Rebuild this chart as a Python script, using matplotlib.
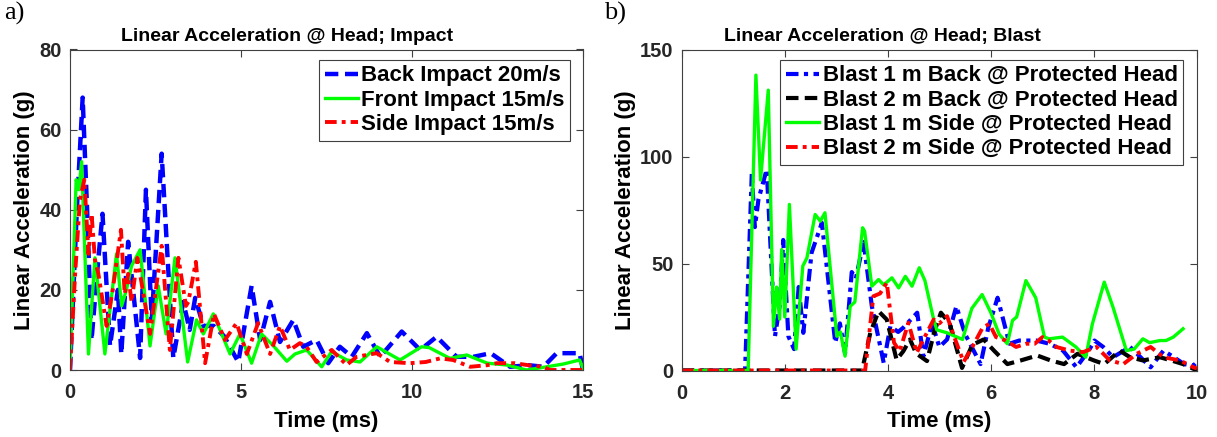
import matplotlib
matplotlib.use("Agg")
import matplotlib.pyplot as plt

# ---------------- data: panel a (impact) ----------------
back_t = [0, 0.2, 0.37, 0.5, 0.63, 0.8, 0.95, 1.17, 1.4, 1.5, 1.7, 2.05, 2.22, 2.39, 2.68, 3.02, 3.31, 3.5, 3.66, 3.9, 4.2, 4.5, 4.92, 5.31,
          5.56, 5.85, 6.14, 6.53, 6.82, 7.21, 7.55, 7.89, 8.24, 8.68, 9.07, 9.7, 10.24, 10.72, 11.3, 11.8, 12.3, 12.87, 13.4,
          13.84, 14.23, 14.9, 15.0]
back_g = [0, 40, 68, 40, 7.5, 25, 39, 6, 20, 4, 32, 3, 45, 12.5, 54, 3, 17, 10, 18, 11, 11, 8.5, 2, 21,
          7.5, 17, 7, 12.5, 5.8, 7.5, 1.7, 5.8, 3.3, 9.2, 3.3, 9.6, 5, 8.3, 3.3, 3.3, 4.2, 0.8, 1.2,
          0.8, 4.2, 4.2, 0]

front_t = [0, 0.18, 0.26, 0.34, 0.54, 0.73, 1.02, 1.36, 1.51, 1.65, 1.8, 2.05, 2.34, 2.58, 2.81, 3.07, 3.44, 3.7, 3.9, 4.19, 4.68,
           4.97, 5.31, 5.6, 5.95, 6.34, 6.58, 6.92, 7.36, 7.65, 8.09, 8.48, 8.97, 9.65, 10.28, 10.5, 11.11, 11.6, 12.2, 12.77,
           13.35, 13.94, 14.43, 14.9, 15.0]
front_g = [0, 47.5, 45, 52, 4, 28, 4, 29, 16, 20, 26, 30, 6, 21, 9, 28, 2, 12.5, 9, 14, 4,
           9, 1.7, 9, 6, 2.2, 4, 5, 0.8, 4.6, 2.5, 2, 5.8, 2.5, 5.8, 5.6, 2.9, 3.75, 1.7, 1.25,
           0, 0.8, 1.5, 2.5, 0.5]

side_t = [0, 0.15, 0.29, 0.42, 0.54, 0.63, 0.73, 0.83, 1.07, 1.25, 1.49, 1.6, 1.7, 1.8, 1.97, 2.34, 2.68, 2.92, 3.17, 3.39, 3.46,
          3.68, 3.95, 4.21, 4.53, 4.87, 5.17, 5.5, 5.85, 6.14, 6.43, 6.72, 6.9, 7.21, 7.65, 8.09, 8.38, 8.97, 9.36, 9.94,
          10.4, 10.82, 11.2, 11.7, 12.2, 12.48, 13.0, 13.4, 13.84, 14.03, 15.0]
side_g = [0, 24, 42.5, 47.5, 29, 39, 27.5, 24, 11, 20, 35, 19, 24, 17, 28, 9, 31, 5, 28, 16, 17,
          27, 1.7, 14, 7.5, 11.7, 4, 11.7, 4, 11, 5, 6.7, 6, 2, 5, 1.25, 3.3, 4.2, 2, 1.7,
          2, 2.9, 2.5, 0.8, 1.2, 1.7, 1.7, 1.2, 0.8, 0, 0]

# ---------------- data: panel b (blast) ----------------
b1back_t = [0, 1.23, 1.36, 1.42, 1.49, 1.65, 1.81, 1.9, 1.97, 2.07, 2.18, 2.27, 2.36, 2.52, 2.72, 2.98, 3.07, 3.17, 3.3, 3.38, 3.53,
            3.69, 3.92, 4.05, 4.2, 4.3, 4.57, 4.69, 4.86, 5.0, 5.15, 5.33, 5.5, 5.8, 5.95, 6.13, 6.36, 6.55, 6.88, 7.14, 7.4,
            7.66, 7.9, 8.01, 8.18, 8.37, 8.7, 8.83, 9.1, 9.35, 9.55, 9.75, 9.93, 10.0]
b1back_g = [0, 0, 92, 67, 80, 94, 16, 30, 61, 16, 10, 39, 17.6, 55, 69, 13, 22, 8, 46, 43, 60,
            30, 3.6, 20.7, 18, 20, 27, 6.7, 22, 11, 14.5, 30, 17, 3, 20, 34, 12.5, 14, 14, 12.5, 9.3,
            1.5, 9.3, 14, 11, 6.2, 11, 8, 1.5, 9.3, 6.2, 3, 2.3, 4]

b2back_t = [0, 3.5, 3.66, 3.82, 3.98, 4.17, 4.3, 4.43, 4.55, 4.76, 4.9, 5.03, 5.2, 5.44, 5.64, 5.86, 6.06, 6.32, 6.58, 6.9, 7.16,
            7.42, 7.68, 8.0, 8.2, 8.5, 8.7, 8.95, 9.28, 9.5, 9.73, 9.93, 10.0]
b2back_g = [0, 0, 17.6, 27.7, 23.8, 5, 9, 14.5, 8, 4.4, 18, 27, 22, 1.2, 12, 14.5, 9.3, 3, 4.7, 7, 4.7,
            3, 7.8, 4.7, 3, 9.3, 6.2, 4.7, 6.2, 4.7, 3, 0.8, 0]

b1side_t = [0, 1.29, 1.44, 1.53, 1.68, 1.78, 1.84, 1.9, 1.94, 2.0, 2.09, 2.22, 2.35, 2.43, 2.59, 2.69, 2.78, 3.01, 3.08, 3.17, 3.27,
            3.36, 3.51, 3.55, 3.69, 3.82, 3.92, 4.08, 4.21, 4.34, 4.47, 4.61, 4.72, 4.89, 4.95, 5.15, 5.45, 5.63, 5.83, 6.0,
            6.16, 6.32, 6.42, 6.5, 6.68, 6.87, 7.04, 7.13, 7.39, 7.65, 7.84, 7.97, 8.2, 8.37, 8.63, 8.78, 8.95, 9.08, 9.28,
            9.4, 9.54, 9.73]
b1side_g = [0, 0, 138, 89, 131, 20.7, 39, 24, 56.5, 25, 77.6, 10, 48.8, 52.6, 72.9, 69.8, 73.7, 16, 18, 6.7, 30,
            32, 66.7, 65, 39.4, 42.5, 40, 43.3, 38.6, 44, 39.4, 48, 42, 23.8, 19, 17.6, 14.5, 29, 35.5, 27,
            17, 12.5, 23.4, 25, 42, 34, 15.6, 14.8, 15.6, 11, 6.2, 21.8, 41.3, 29.6, 9.3, 10, 14.8, 13, 14,
            14, 15.6, 19.5]

b2side_t = [0, 3.56, 3.72, 3.85, 3.98, 4.12, 4.23, 4.4, 4.56, 4.68, 4.89, 5.0, 5.15, 5.3, 5.47, 5.64, 5.84, 5.97, 6.1, 6.29, 6.49,
            6.68, 6.85, 7.0, 7.12, 7.27, 7.53, 7.79, 8.05, 8.31, 8.57, 8.83, 9.1, 9.35, 9.67, 9.93, 10.0]
b2side_g = [0, 0, 34.7, 36, 41, 13, 9, 22.3, 8.3, 14, 23.8, 22, 25.4, 15, 4, 11, 20, 21.8, 15.6, 14, 11,
            12.5, 12.5, 15.6, 14, 11, 9.3, 8.6, 11, 4.7, 3, 7.8, 11, 6.2, 4.7, 1.5, 1]

impact_labels = ["Back Impact 20m/s", "Front Impact 15m/s", "Side Impact 15m/s"]
blast_labels = ["Blast 1 m Back @ Protected Head", "Blast 2 m Back @ Protected Head",
                "Blast 1 m Side @ Protected Head", "Blast 2 m Side @ Protected Head"]

plt.rcParams['font.family'] = ['Liberation Sans', 'DejaVu Sans']
plt.rcParams['font.weight'] = 'bold'

fig = plt.figure(figsize=(12.17, 4.37), dpi=100)
W, H = 1217, 437
ax1 = fig.add_axes([70 / W, (437 - 370) / H, (583 - 70) / W, (370 - 49.5) / H])
ax2 = fig.add_axes([681.7 / W, (437 - 370.5) / H, (1197 - 681.7) / W, (370.5 - 49.5) / H])

BLUE, GREEN, RED, BLACK = '#0000FF', '#00FF00', '#FF0000', '#000000'
DASH = (0, (3.0, 1.5))
DASHDOT = (0, (3.0, 1.3, 1.0, 1.3))

ax1.plot(back_t, back_g, color=BLUE, lw=3.2, ls=DASH, label=impact_labels[0])
ax1.plot(front_t, front_g, color=GREEN, lw=2.4, ls='-', label=impact_labels[1])
ax1.plot(side_t, side_g, color=RED, lw=2.8, ls=DASHDOT, label=impact_labels[2])

ax2.plot(b1back_t, b1back_g, color=BLUE, lw=3.0, ls=DASHDOT, label=blast_labels[0])
ax2.plot(b2back_t, b2back_g, color=BLACK, lw=3.0, ls=DASH, label=blast_labels[1])
ax2.plot(b1side_t, b1side_g, color=GREEN, lw=2.4, ls='-', label=blast_labels[2])
ax2.plot(b2side_t, b2side_g, color=RED, lw=2.8, ls=DASHDOT, label=blast_labels[3])

for ax, xlim, xt, ylim, yt, title, tx in [
        (ax1, (0, 15), [0, 5, 10, 15], (0, 80), [0, 20, 40, 60, 80], "Linear Acceleration @ Head; Impact", 0.423),
        (ax2, (0, 10), [0, 2, 4, 6, 8, 10], (0, 150), [0, 50, 100, 150], "Linear Acceleration @ Head; Blast", 0.39)]:
    ax.set_xlim(*xlim)
    ax.set_ylim(*ylim)
    ax.set_xticks(xt)
    ax.set_yticks(yt)
    ax.tick_params(direction='in', top=True, right=True, length=5, width=0.8, color='#404040',
                   labelsize=14.5)
    ax.tick_params(axis='x', pad=9.5)
    ax.tick_params(axis='y', pad=6)
    for lab in ax.get_xticklabels() + ax.get_yticklabels():
        lab.set_fontweight('bold')
        lab.set_color('#262626')
    for sp in ax.spines.values():
        sp.set_color('#404040')
        sp.set_linewidth(0.8)
    ax.set_xlabel("Time (ms)", fontsize=16, fontweight='bold', labelpad=6)
    ax.set_ylabel("Linear Acceleration (g)", fontsize=16, fontweight='bold', labelpad=3)
    ax.set_title(title, fontsize=14, fontweight='bold', pad=6, x=tx)

leg1 = ax1.legend(loc='upper right', bbox_to_anchor=(0.975, 0.968), fontsize=16, frameon=True,
                  fancybox=False, framealpha=1, edgecolor='#404040', handlelength=1.5,
                  borderpad=0.25, labelspacing=0.15, handletextpad=0.15, borderaxespad=0.0)
leg1.get_frame().set_linewidth(0.8)
leg2 = ax2.legend(loc='upper right', bbox_to_anchor=(0.973, 0.968), fontsize=16, frameon=True,
                  fancybox=False, framealpha=1, edgecolor='#404040', handlelength=1.5,
                  borderpad=0.25, labelspacing=0.15, handletextpad=0.15, borderaxespad=0.0)
leg2.get_frame().set_linewidth(0.8)
for leg in (leg1, leg2):
    for t in leg.get_texts():
        t.set_fontweight('bold')

fig.text(4 / W, 1 - 13 / H, "a)", fontsize=19, family=['Liberation Serif'], fontweight='normal', va='center')
fig.text(604 / W, 1 - 13 / H, "b)", fontsize=19, family=['Liberation Serif'], fontweight='normal', va='center')

fig.savefig("out.png", dpi=100)
